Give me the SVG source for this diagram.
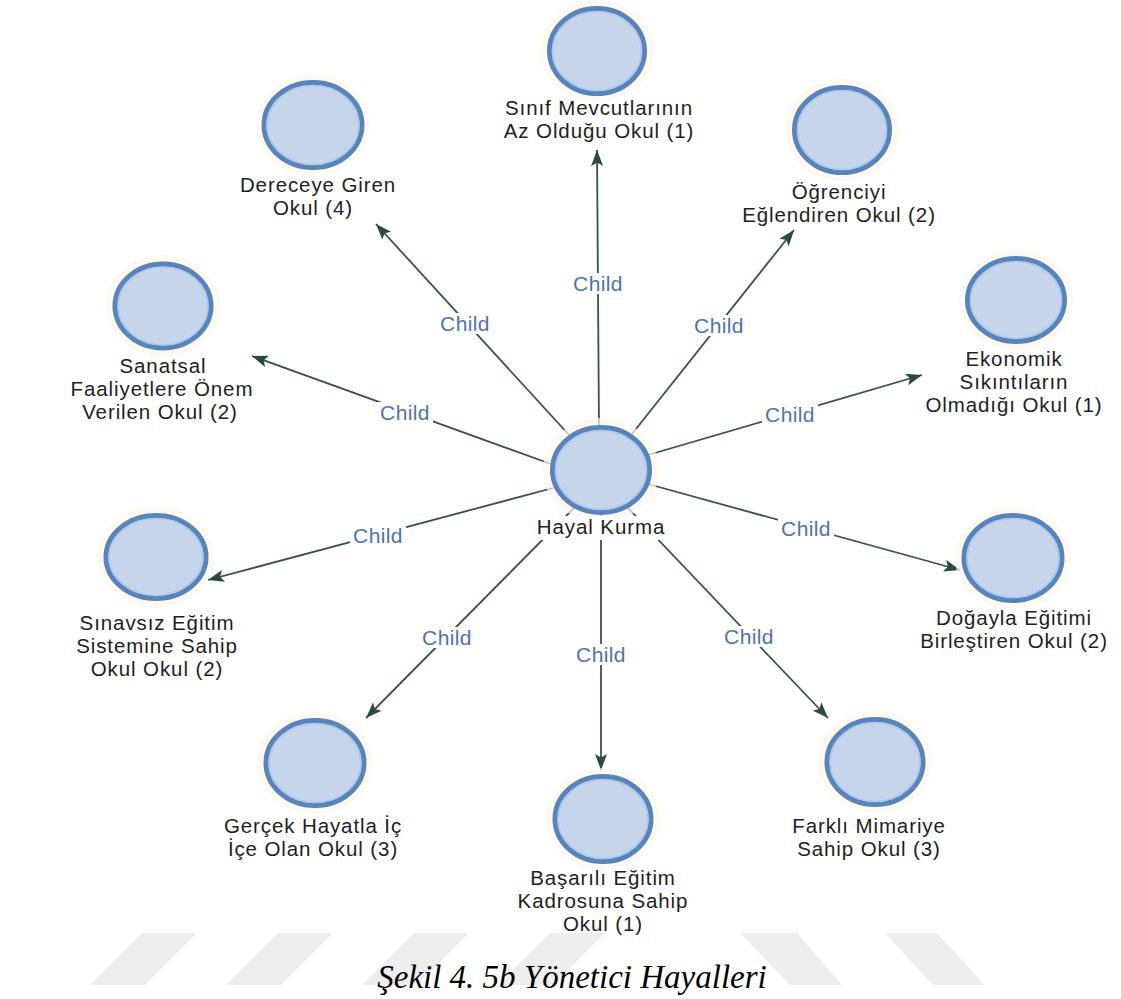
<svg xmlns="http://www.w3.org/2000/svg" width="1121" height="999" viewBox="0 0 1121 999">
<defs>
<style>
.bg{fill:#ffffff}
.wm{fill:#eeeeee}
.halo{fill:#fdf8ee;opacity:0.7}
.nd{fill:#c7d5ea;stroke:#5884b9;stroke-width:5}
.ring{fill:none;stroke:#a8c8f0;stroke-width:1.6}
.lbl{font-family:"Liberation Sans",Arial,sans-serif;font-size:20.5px;letter-spacing:0.9px;fill:#1e1e1e;text-anchor:middle}
.lblbg{fill:#ffffff}
.edge{stroke:#3a524c;stroke-width:1.8;fill:none;marker-end:url(#ah)}
.elbg{fill:#ffffff}
.el{font-family:"Liberation Sans",Arial,sans-serif;font-size:21px;letter-spacing:0.4px;fill:#4f72b5;text-anchor:middle}
.cap{font-family:"Liberation Serif","Times New Roman",serif;font-style:italic;font-size:33px;fill:#000000;text-anchor:middle}
</style>
<marker id="ah" markerUnits="userSpaceOnUse" markerWidth="17" markerHeight="13" refX="16" refY="6.5" orient="auto">
<path d="M0,0.5 L16,6.5 L0,12.5 L3.5,6.5 z" fill="#2c4842"/>
</marker>
</defs>
<rect class="bg" x="0" y="0" width="1121" height="999"/>
<g id="watermark">
<polygon class="wm" points="90,985 145,985 197,933 142,933"/>
<polygon class="wm" points="226,985 281,985 333,933 278,933"/>
<polygon class="wm" points="362,985 417,985 469,933 414,933"/>
<polygon class="wm" points="498,985 553,985 605,933 550,933"/>
<polygon class="wm" points="740,933 797,933 842,985 790,985"/>
<polygon class="wm" points="885,933 937,933 985,985 933,985"/>
</g>
<g id="connectors">
<line class="edge" x1="599" y1="430" x2="597" y2="150"/>
<line class="edge" x1="570" y1="436" x2="376" y2="224"/>
<line class="edge" x1="632" y1="434" x2="794" y2="230"/>
<line class="edge" x1="648" y1="455" x2="922" y2="375"/>
<line class="edge" x1="551" y1="464" x2="252" y2="356"/>
<line class="edge" x1="648" y1="484" x2="960" y2="570"/>
<line class="edge" x1="553" y1="488" x2="208" y2="580"/>
<line class="edge" x1="574" y1="508" x2="366" y2="718"/>
<line class="edge" x1="601" y1="512" x2="601" y2="770"/>
<line class="edge" x1="628" y1="508" x2="828" y2="718"/>
<rect class="elbg" x="570" y="273" width="56" height="21"/>
<text class="el" x="598" y="291">Child</text>
<rect class="elbg" x="437" y="313" width="56" height="21"/>
<text class="el" x="465" y="331">Child</text>
<rect class="elbg" x="691" y="315" width="56" height="21"/>
<text class="el" x="719" y="333">Child</text>
<rect class="elbg" x="762" y="404" width="56" height="21"/>
<text class="el" x="790" y="422">Child</text>
<rect class="elbg" x="377" y="402" width="56" height="21"/>
<text class="el" x="405" y="420">Child</text>
<rect class="elbg" x="778" y="518" width="56" height="21"/>
<text class="el" x="806" y="536">Child</text>
<rect class="elbg" x="350" y="525" width="56" height="21"/>
<text class="el" x="378" y="543">Child</text>
<rect class="elbg" x="419" y="627" width="56" height="21"/>
<text class="el" x="447" y="645">Child</text>
<rect class="elbg" x="573" y="644" width="56" height="21"/>
<text class="el" x="601" y="662">Child</text>
<rect class="elbg" x="721" y="626" width="56" height="21"/>
<text class="el" x="749" y="644">Child</text>
</g>
<g id="n-center">
<ellipse class="halo" cx="601" cy="470" rx="58" ry="52"/>
<ellipse class="nd" cx="601" cy="470" rx="48.5" ry="42.5"/>
<ellipse class="ring" cx="601" cy="470" rx="45.5" ry="39.5"/>
<rect class="lblbg" x="536" y="516" width="131" height="24"/>
<text class="lbl" x="601" y="534">Hayal Kurma</text>
</g>
<g id="n-sinif">
<ellipse class="halo" cx="597" cy="51" rx="57" ry="51"/>
<ellipse class="nd" cx="597" cy="51" rx="47.5" ry="42.5"/>
<ellipse class="ring" cx="597" cy="51" rx="44.5" ry="39.5"/>
<text class="lbl" x="599" y="115">Sınıf Mevcutlarının</text>
<text class="lbl" x="599" y="138">Az Olduğu Okul (1)</text>
</g>
<g id="n-derece">
<ellipse class="halo" cx="313" cy="125" rx="57" ry="51"/>
<ellipse class="nd" cx="313" cy="125" rx="49" ry="42.5"/>
<ellipse class="ring" cx="313" cy="125" rx="46" ry="39.5"/>
<text class="lbl" x="318" y="192">Dereceye Giren</text>
<text class="lbl" x="313" y="215">Okul (4)</text>
</g>
<g id="n-ogrenci">
<ellipse class="halo" cx="842" cy="130" rx="57" ry="51"/>
<ellipse class="nd" cx="842" cy="130" rx="47.5" ry="42.5"/>
<ellipse class="ring" cx="842" cy="130" rx="44.5" ry="39.5"/>
<text class="lbl" x="839" y="199">Öğrenciyi</text>
<text class="lbl" x="839" y="222">Eğlendiren Okul (2)</text>
</g>
<g id="n-ekonomik">
<ellipse class="halo" cx="1016" cy="300" rx="57" ry="50"/>
<ellipse class="nd" cx="1016" cy="300" rx="48.5" ry="41.5"/>
<ellipse class="ring" cx="1016" cy="300" rx="45.5" ry="38.5"/>
<text class="lbl" x="1014" y="366">Ekonomik</text>
<text class="lbl" x="1014" y="389">Sıkıntıların</text>
<text class="lbl" x="1014" y="412">Olmadığı Okul (1)</text>
</g>
<g id="n-sanatsal">
<ellipse class="halo" cx="163" cy="306" rx="57" ry="51"/>
<ellipse class="nd" cx="163" cy="306" rx="48" ry="42"/>
<ellipse class="ring" cx="163" cy="306" rx="45" ry="39"/>
<text class="lbl" x="163" y="373">Sanatsal</text>
<text class="lbl" x="162" y="396">Faaliyetlere Önem</text>
<text class="lbl" x="160" y="419">Verilen Okul (2)</text>
</g>
<g id="n-doga">
<ellipse class="halo" cx="1013" cy="558" rx="58" ry="51"/>
<ellipse class="nd" cx="1013" cy="558" rx="49" ry="42.5"/>
<ellipse class="ring" cx="1013" cy="558" rx="46" ry="39.5"/>
<text class="lbl" x="1014" y="625">Doğayla Eğitimi</text>
<text class="lbl" x="1014" y="648">Birleştiren Okul (2)</text>
</g>
<g id="n-sinavsiz">
<ellipse class="halo" cx="156" cy="557" rx="58" ry="51"/>
<ellipse class="nd" cx="156" cy="557" rx="50" ry="41.5"/>
<ellipse class="ring" cx="156" cy="557" rx="47" ry="38.5"/>
<text class="lbl" x="157" y="630">Sınavsız Eğitim</text>
<text class="lbl" x="157" y="653">Sistemine Sahip</text>
<text class="lbl" x="157" y="676">Okul Okul (2)</text>
</g>
<g id="n-gercek">
<ellipse class="halo" cx="315" cy="763" rx="58" ry="51"/>
<ellipse class="nd" cx="315" cy="763" rx="49" ry="42.5"/>
<ellipse class="ring" cx="315" cy="763" rx="46" ry="39.5"/>
<text class="lbl" x="313" y="833">Gerçek Hayatla İç</text>
<text class="lbl" x="313" y="856">İçe Olan Okul (3)</text>
</g>
<g id="n-basarili">
<ellipse class="halo" cx="603" cy="819" rx="57" ry="51"/>
<ellipse class="nd" cx="603" cy="819" rx="48" ry="42.5"/>
<ellipse class="ring" cx="603" cy="819" rx="45" ry="39.5"/>
<text class="lbl" x="603" y="885">Başarılı Eğitim</text>
<text class="lbl" x="603" y="908">Kadrosuna Sahip</text>
<text class="lbl" x="603" y="931">Okul (1)</text>
</g>
<g id="n-farkli">
<ellipse class="halo" cx="875" cy="762" rx="57" ry="51"/>
<ellipse class="nd" cx="875" cy="762" rx="48" ry="42.5"/>
<ellipse class="ring" cx="875" cy="762" rx="45" ry="39.5"/>
<text class="lbl" x="869" y="833">Farklı Mimariye</text>
<text class="lbl" x="869" y="856">Sahip Okul (3)</text>
</g>
<text class="cap" x="572" y="988">Şekil 4. 5b Yönetici Hayalleri</text>
</svg>
